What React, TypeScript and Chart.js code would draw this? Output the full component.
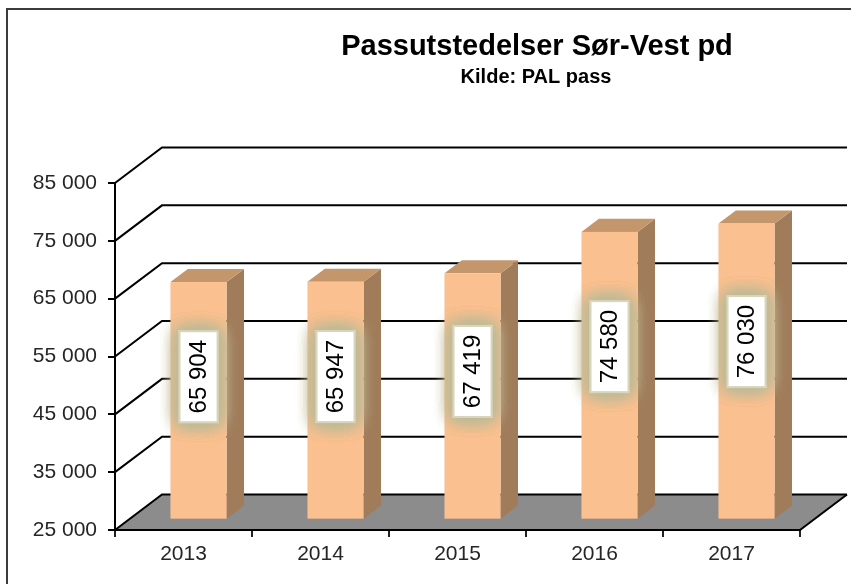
import React, { useEffect, useRef } from 'react';
import { Chart, registerables } from 'chart.js';

Chart.register(...registerables);

const years = ['2013', '2014', '2015', '2016', '2017'];
const passes = [65904, 65947, 67419, 74580, 76030];
const yTicks = [25000, 35000, 45000, 55000, 65000, 75000, 85000];
const titleText = 'Passutstedelser Sør-Vest pd';
const subtitleText = 'Kilde: PAL pass';

const FONT = '"Liberation Sans", Arial, Helvetica, sans-serif';
const DX = 47;
const DY = -35.5;
const BAR_POS = 0.32;
const BAR_DEPTH = 0.37;
const FRONT = '#FAC08F';
const SIDE = '#A07C5A';
const TOP = '#C4966C';
const FLOOR = '#8c8c8c';

const fmt = (v: number) =>
  Math.round(v)
    .toString()
    .replace(/\B(?=(\d{3})+(?!\d))/g, ' ');

const poly = (ctx: CanvasRenderingContext2D, pts: number[][]) => {
  ctx.beginPath();
  ctx.moveTo(pts[0][0], pts[0][1]);
  for (let i = 1; i < pts.length; i++) ctx.lineTo(pts[i][0], pts[i][1]);
  ctx.closePath();
};

const threeD = {
  id: 'threeD',
  beforeDraw(chart: any) {
    const { ctx, chartArea: a } = chart;
    const y = chart.scales.y;
    ctx.save();
    // outer frame
    ctx.strokeStyle = '#3c3c3c';
    ctx.lineWidth = 2;
    ctx.strokeRect(7, 9, chart.width, chart.height);
    // floor
    ctx.fillStyle = FLOOR;
    poly(ctx, [
      [a.left, a.bottom],
      [a.right, a.bottom],
      [a.right + DX, a.bottom + DY],
      [a.left + DX, a.bottom + DY],
    ]);
    ctx.fill();
    ctx.strokeStyle = '#000';
    ctx.lineWidth = 2;
    ctx.beginPath();
    ctx.moveTo(a.right, a.bottom);
    ctx.lineTo(a.right + DX, a.bottom + DY);
    ctx.stroke();
    // wall gridlines
    y.ticks.forEach((t: any) => {
      const py = y.getPixelForValue(t.value);
      ctx.beginPath();
      ctx.moveTo(a.left, py);
      ctx.lineTo(a.left + DX, py + DY);
      ctx.lineTo(a.right + DX, py + DY);
      ctx.stroke();
    });
    ctx.restore();
  },
  afterDatasetsDraw(chart: any) {
    const { ctx } = chart;
    const yScale = chart.scales.y;
    const meta = chart.getDatasetMeta(0);
    const ds = chart.data.datasets[0].data as number[];
    ctx.save();
    const ox = DX * BAR_POS;
    const oy = DY * BAR_POS;
    const bx = DX * BAR_DEPTH;
    const by = DY * BAR_DEPTH;
    const basePx = yScale.getPixelForValue(yScale.min);
    meta.data.forEach((bar: any, i: number) => {
      const { x, width } = bar.getProps(['x', 'width'], true);
      const x0 = x - width / 2 + ox;
      const x1 = x + width / 2 + ox;
      const t = yScale.getPixelForValue(ds[i]) + oy;
      const b = basePx + oy;
      ctx.fillStyle = SIDE;
      poly(ctx, [
        [x1, t],
        [x1 + bx, t + by],
        [x1 + bx, b + by],
        [x1, b],
      ]);
      ctx.fill();
      ctx.fillStyle = TOP;
      poly(ctx, [
        [x0, t],
        [x0 + bx, t + by],
        [x1 + bx, t + by],
        [x1, t],
      ]);
      ctx.fill();
      ctx.fillStyle = FRONT;
      ctx.fillRect(x0, t, x1 - x0, b - t);

      // data label with soft glow
      const cx = (x0 + x1) / 2;
      const cy = t + 0.4 * (b - t);
      const w = 36;
      const h = 89;
      ctx.save();
      ctx.shadowColor = 'rgba(190, 186, 150, 1)';
      ctx.shadowBlur = 18;
      ctx.fillStyle = '#d8d5bd';
      for (let k = 0; k < 4; k++) ctx.fillRect(cx - w / 2 - 2, cy - h / 2 - 2, w + 4, h + 4);
      ctx.restore();
      ctx.fillStyle = '#ffffff';
      ctx.fillRect(cx - w / 2, cy - h / 2, w, h);
      ctx.save();
      ctx.translate(cx, cy);
      ctx.rotate(-Math.PI / 2);
      ctx.fillStyle = '#000';
      ctx.font = `24px ${FONT}`;
      ctx.textAlign = 'center';
      ctx.textBaseline = 'middle';
      ctx.fillText(fmt(ds[i]), 0, 1);
      ctx.restore();
    });
    ctx.restore();
  },
  afterDraw(chart: any) {
    const { ctx } = chart;
    ctx.save();
    ctx.fillStyle = '#000';
    ctx.textAlign = 'center';
    ctx.textBaseline = 'alphabetic';
    ctx.font = `bold 29px ${FONT}`;
    ctx.fillText(titleText, 537, 55);
    ctx.font = `bold 20px ${FONT}`;
    ctx.fillText(subtitleText, 536, 83);
    ctx.restore();
  },
};

export default function App() {
  const ref = useRef<HTMLCanvasElement | null>(null);
  useEffect(() => {
    if (!ref.current) return;
    const chart = new Chart(ref.current, {
      type: 'bar',
      data: {
        labels: years,
        datasets: [
          {
            label: 'Passutstedelser',
            data: passes,
            base: 25000,
            backgroundColor: 'rgba(0,0,0,0)',
            borderWidth: 0,
            categoryPercentage: 1,
            barPercentage: 0.41,
          },
        ],
      },
      options: {
        animation: false,
        responsive: false,
        devicePixelRatio: 1,
        layout: { padding: { top: 183, right: 51, left: 0, bottom: 0 } },
        plugins: {
          legend: { display: false },
          title: { display: false },
          tooltip: { enabled: false },
        },
        scales: {
          x: {
            afterFit: (s: any) => {
              s.height = 54;
            },
            border: { display: true, color: '#000', width: 2 },
            grid: {
              offset: true,
              drawOnChartArea: false,
              drawTicks: true,
              tickLength: 7,
              color: '#222',
              lineWidth: 2,
            },
            ticks: {
              color: '#262626',
              font: { family: FONT, size: 21 },
              padding: 5,
            },
          },
          y: {
            min: 25000,
            max: 85000,
            afterFit: (s: any) => {
              s.width = 115;
            },
            afterBuildTicks: (s: any) => {
              s.ticks = yTicks.map((v) => ({ value: v }));
            },
            border: { display: true, color: '#000', width: 2 },
            grid: {
              drawOnChartArea: false,
              drawTicks: true,
              tickLength: 7,
              color: '#000',
              lineWidth: 2,
            },
            ticks: {
              color: '#262626',
              font: { family: FONT, size: 21 },
              padding: 11,
              callback: (v: any) => fmt(Number(v)),
            },
          },
        },
      },
      plugins: [threeD],
    });
    return () => chart.destroy();
  }, []);
  return (
    <div style={{ position: 'absolute', left: 0, top: 0, width: 851, height: 584, background: '#fff' }}>
      <canvas ref={ref} width={851} height={584} style={{ display: 'block' }} />
    </div>
  );
}
